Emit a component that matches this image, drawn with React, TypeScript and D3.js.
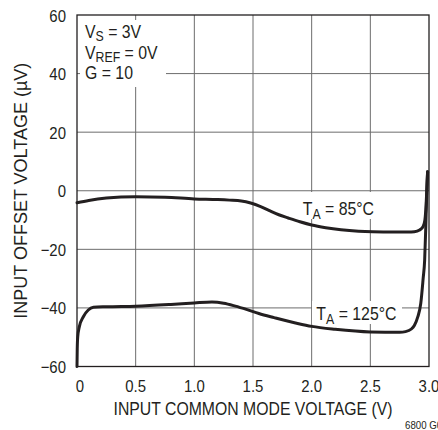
import React from "react";
import * as d3 from "d3";

const xTicks = [0, 0.5, 1.0, 1.5, 2.0, 2.5, 3.0];
const xTickLabels = ["0", "0.5", "1.0", "1.5", "2.0", "2.5", "3.0"];
const yTicks = [60, 40, 20, 0, -20, -40, -60];
const yTickLabels = ["60", "40", "20", "0", "\u221220", "\u221240", "\u221260"];

const vcm85 = [0, 0.1, 0.25, 0.5, 0.75, 1.0, 1.2, 1.3, 1.4, 1.48, 1.56, 1.64, 1.72, 1.8, 1.9, 2.0, 2.12, 2.25, 2.4, 2.52, 2.7, 2.82, 2.875, 2.92, 2.95, 2.965, 2.975, 2.982, 2.988];
const vos85 = [-4.1, -3.3, -2.5, -2.05, -2.2, -2.8, -3.0, -3.2, -3.5, -4.2, -5.3, -6.8, -8.2, -9.3, -10.6, -11.7, -12.6, -13.3, -13.8, -14.0, -14.1, -14.1, -14.0, -13.4, -12.2, -10, -5, 1, 6.5];

const vcm125 = [0, 0.002, 0.006, 0.02, 0.054, 0.096, 0.14, 0.25, 0.5, 0.8, 1.0, 1.15, 1.25, 1.35, 1.45, 1.55, 1.68, 1.88, 2.0, 2.2, 2.5, 2.75, 2.8, 2.85, 2.875, 2.905, 2.93, 2.95, 2.963, 2.973, 2.982, 2.988];
const vos125 = [-60, -54, -50, -46.4, -43, -40.7, -39.8, -39.6, -39.4, -38.8, -38.3, -38.0, -38.4, -39.4, -40.6, -41.9, -43.3, -45.3, -46.3, -47.3, -48.2, -48.3, -48.1, -47.2, -46.0, -43, -38.4, -30, -23.7, -12, 1, 6.5];

const FONT = "'Liberation Sans', Arial, sans-serif";
const SX = 0.88;

function Txt({ x, y, size, anchor, children }: { x: number; y: number; size: number; anchor?: string; children: React.ReactNode }) {
  return (
    <g transform={`translate(${x},${y}) scale(${SX},1)`}>
      <text x={0} y={0} fontSize={size} textAnchor={anchor || "start"} fill="#231f20">
        {children}
      </text>
    </g>
  );
}

export default function App() {
  const W = 438, H = 430;
  const x = d3.scaleLinear().domain([0, 3]).range([77, 429]);
  const y = d3.scaleLinear().domain([-60, 60]).range([366.5, 15]);
  const line = d3
    .line<[number, number]>()
    .x((d) => x(d[0]))
    .y((d) => y(d[1]))
    .curve(d3.curveMonotoneX);
  const d85 = line(vcm85.map((v, i) => [v, vos85[i]] as [number, number])) || "";
  const d125 = line(vcm125.map((v, i) => [v, vos125[i]] as [number, number])) || "";
  const ink = "#231f20";
  const grid = "#6d6d6d";

  return (
    <svg width={W} height={H} style={{ position: "absolute", left: 0, top: 0 }} fontFamily={FONT}>
      <rect x={0} y={0} width={W} height={H} fill="#fff" />
      {xTicks.slice(1, -1).map((t) => (
        <line key={"gx" + t} x1={x(t)} x2={x(t)} y1={y(60)} y2={y(-60)} stroke={grid} strokeWidth={1} />
      ))}
      {yTicks.slice(1, -1).map((t) => (
        <line key={"gy" + t} x1={x(0)} x2={x(3)} y1={y(t)} y2={y(t)} stroke={grid} strokeWidth={1} />
      ))}
      <rect x={80} y={20} width={86} height={67} fill="#fff" />
      <rect x={298} y={192} width={82} height={27} fill="#fff" />
      <rect x={312} y={301} width={90} height={23} fill="#fff" />
      <rect x={x(0)} y={y(60)} width={x(3) - x(0)} height={y(-60) - y(60)} fill="none" stroke={ink} strokeWidth={1.3} />
      <path d={d85} fill="none" stroke={ink} strokeWidth={3} strokeLinejoin="round" strokeLinecap="round" />
      <path d={d125} fill="none" stroke={ink} strokeWidth={3} strokeLinejoin="round" strokeLinecap="round" />
      {yTicks.map((t, i) => (
        <Txt key={"yl" + t} x={66} y={y(t) + 6.5} size={17} anchor="end">
          {yTickLabels[i]}
        </Txt>
      ))}
      {xTicks.map((t, i) => (
        <Txt key={"xl" + t} x={x(t) + (i === 0 ? 3 : 0)} y={392} size={17} anchor="middle">
          {xTickLabels[i]}
        </Txt>
      ))}
      <text x={(x(0) + x(3)) / 2} y={415} textAnchor="middle" fontSize={18} fill={ink} textLength={279} lengthAdjust="spacingAndGlyphs">
        INPUT COMMON MODE VOLTAGE (V)
      </text>
      <text transform={`translate(26.5,${(y(60) + y(-60)) / 2}) rotate(-90)`} textAnchor="middle" fontSize={18} fill={ink} textLength={256} lengthAdjust="spacingAndGlyphs">
        INPUT OFFSET VOLTAGE (µV)
      </text>
      <Txt x={85} y={37.5} size={18}>
        V<tspan fontSize={14} dy={3}>S</tspan><tspan dy={-3}> = 3V</tspan>
      </Txt>
      <Txt x={85} y={59} size={18}>
        V<tspan fontSize={14} dy={3}>REF</tspan><tspan dy={-3}> = 0V</tspan>
      </Txt>
      <Txt x={85} y={79} size={18}>
        G = 10
      </Txt>
      <Txt x={x(1.924)} y={215} size={18}>
        T<tspan fontSize={14} dy={4}>A</tspan><tspan dy={-4}> = 85°C</tspan>
      </Txt>
      <Txt x={x(2.04)} y={320} size={18}>
        T<tspan fontSize={14} dy={4}>A</tspan><tspan dy={-4}> = 125°C</tspan>
      </Txt>
      <Txt x={405} y={429} size={11}>
        6800 G03
      </Txt>
    </svg>
  );
}
